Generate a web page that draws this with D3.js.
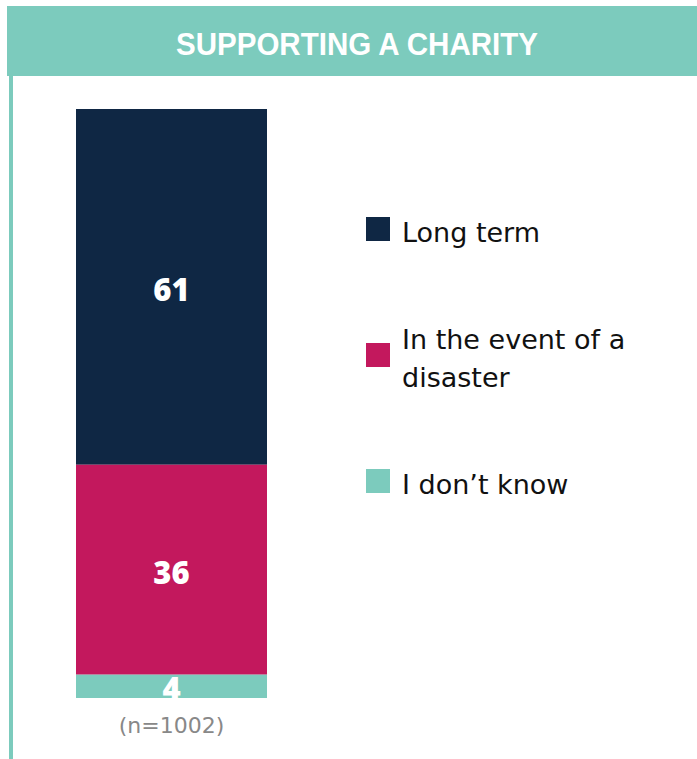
<!DOCTYPE html>
<html>
<head>
<meta charset="utf-8">
<script src="https://cdn.jsdelivr.net/npm/d3@7"></script>
<style>
  body { margin: 0; background: #fff; }
  svg { display: block; }
</style>
</head>
<body>
<script>
var w = 697;
var h = 759;

// data
var categories = ["Supporting a charity"];
var seriesNames = ["Long term", "In the event of a disaster", "I don\u2019t know"];
var seriesValues = [61, 36, 4];
var seriesColors = ["#0f2744", "#c3185d", "#7ccbbd"];
var legendLines = [["Long term"], ["In the event of a", "disaster"], ["I don\u2019t know"]];
var title = "SUPPORTING A CHARITY";
var note = "(n=1002)";

var svg = d3.select("body").append("svg")
    .attr("width", w)
    .attr("height", h);

// header band and left rule
svg.append("rect")
    .attr("x", 7).attr("y", 6)
    .attr("width", w - 7).attr("height", 70)
    .attr("fill", "#7ccbbd");
svg.append("rect")
    .attr("x", 9).attr("y", 76)
    .attr("width", 4).attr("height", h - 76)
    .attr("fill", "#7ccbbd");

svg.append("text")
    .attr("x", 357).attr("y", 55)
    .attr("text-anchor", "middle")
    .attr("font-family", "Liberation Sans, Arial, sans-serif")
    .attr("font-weight", "bold")
    .attr("font-size", 31)
    .attr("textLength", 362)
    .attr("lengthAdjust", "spacingAndGlyphs")
    .attr("fill", "#fff")
    .text(title);

// stacked bar (first series on top)
var row = {};
seriesNames.forEach(function(s, i) { row[s] = seriesValues[i]; });
var stacked = d3.stack().keys(seriesNames)([row]);

var x = d3.scaleBand()
    .domain(categories)
    .range([76, 267])
    .padding(0);

var y = d3.scaleLinear()
    .domain([0, d3.sum(seriesValues)])
    .range([109, 698]);

var color = d3.scaleOrdinal().domain(seriesNames).range(seriesColors);

var layers = svg.selectAll("g.layer")
    .data(stacked)
    .enter()
    .append("g")
    .attr("class", "layer");

layers.append("rect")
    .attr("x", x(categories[0]))
    .attr("width", x.bandwidth())
    .attr("y", function(d) { return y(d[0][0]); })
    .attr("height", function(d) { return y(d[0][1]) - y(d[0][0]); })
    .attr("fill", function(d) { return color(d.key); });

svg.append("clipPath").attr("id", "barclip")
    .append("rect")
    .attr("x", x(categories[0])).attr("width", x.bandwidth())
    .attr("y", y(0)).attr("height", y(d3.sum(seriesValues)) - y(0));

layers.append("text")
    .attr("clip-path", "url(#barclip)")
    .attr("x", x(categories[0]) + x.bandwidth() / 2)
    .attr("y", function(d) { return (y(d[0][0]) + y(d[0][1])) / 2 + 14; })
    .attr("text-anchor", "middle")
    .attr("font-family", "Open Sans, Liberation Sans, sans-serif")
    .attr("font-weight", 800)
    .attr("font-size", 31)
    .attr("fill", "#fff")
    .text(function(d) { return d[0].data[d.key]; });

svg.append("text")
    .attr("x", x(categories[0]) + x.bandwidth() / 2)
    .attr("y", 733)
    .attr("text-anchor", "middle")
    .attr("font-family", "DejaVu Sans, sans-serif")
    .attr("font-size", 22)
    .attr("fill", "#888")
    .text(note);

// legend
var legendTop = [217, 343, 469];
var legend = svg.selectAll("g.legend")
    .data(seriesNames)
    .enter()
    .append("g")
    .attr("class", "legend")
    .attr("transform", function(d, i) { return "translate(366," + legendTop[i] + ")"; });

legend.append("rect")
    .attr("width", 24).attr("height", 24)
    .attr("fill", function(d) { return color(d); });

legend.append("text")
    .attr("font-family", "DejaVu Sans, sans-serif")
    .attr("font-size", 27)
    .attr("fill", "#111")
    .each(function(d, i) {
        var lines = legendLines[i];
        d3.select(this).selectAll("tspan")
            .data(lines)
            .enter()
            .append("tspan")
            .attr("x", 36)
            .attr("y", function(t, j) { return 25 - (lines.length - 1) * 19 + j * 38; })
            .text(function(t) { return t; });
    });
</script>
</body>
</html>
